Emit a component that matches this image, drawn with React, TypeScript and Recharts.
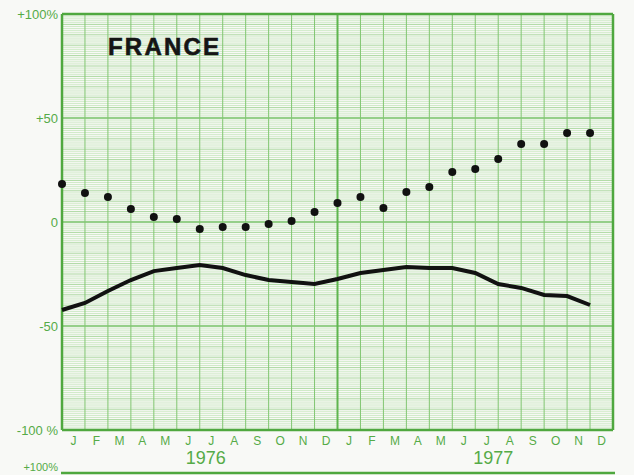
import { ComposedChart, Line, XAxis, YAxis, ReferenceLine } from "recharts";

const monthLabels = ["J", "F", "M", "A", "M", "J", "J", "A", "S", "O", "N", "D", "J", "F", "M", "A", "M", "J", "J", "A", "S", "O", "N", "D"];
const yearLabels = ["1976", "1977"];
const yearTicks = [6, 18];

// dots (upper series) and solid line (lower series), one value per month
const dotValues = [18.3, 13.9, 12.0, 6.3, 2.4, 1.4, -3.4, -2.4, -2.4, -1.0, 0.5, 4.8, 9.1, 12.0, 6.7, 14.4, 16.8, 24.0, 25.5, 30.3, 37.5, 37.5, 42.8, 42.8];
const lineValues = [-42.3, -38.9, -33.2, -27.9, -23.6, -22.1, -20.7, -22.1, -25.5, -27.9, -28.8, -29.8, -27.4, -24.5, -23.1, -21.6, -22.1, -22.1, -24.5, -29.8, -31.7, -35.1, -35.6, -39.9];

const yTicks = [-100, -50, 0, 50, 100];
const yTickLabels: Record<number, string> = { "-100": "-100 %", "-50": "-50", "0": "0", "50": "+50", "100": "+100%" };

const GREEN = "#4fa83f";
const TEXT_GREEN = "#55ab47";

const data = monthLabels.map((_, i) => ({ x: i, dots: dotValues[i], line: lineValues[i] }));
const monthTicks = monthLabels.map((_, i) => i + 0.5);
const fineRows = Array.from({ length: 199 }, (_, i) => i - 99).filter((v) => v % 50 !== 0);
const columns = Array.from({ length: 23 }, (_, i) => i + 1).filter((v) => v !== 12);

export default function App() {
    return (
        <div style={{ position: "absolute", left: 0, top: 0, width: 634, height: 475, background: "#f8f9f6", overflow: "hidden", fontFamily: "'Liberation Sans', Arial, sans-serif" }}>
            <ComposedChart width={634} height={475} data={data} margin={{ top: 14, right: 21, bottom: 1, left: 0 }}>
                <XAxis
                    dataKey="x"
                    type="number"
                    domain={[0, 24]}
                    ticks={monthTicks}
                    tickFormatter={(v: number) => monthLabels[Math.floor(v)]}
                    axisLine={false}
                    tickLine={false}
                    tickSize={0}
                    tickMargin={6}
                    height={20}
                    interval={0}
                    tick={{ fill: TEXT_GREEN, fontSize: 12 }}
                />
                <XAxis
                    xAxisId="year"
                    type="number"
                    domain={[0, 24]}
                    ticks={yearTicks}
                    tickFormatter={(v: number) => yearLabels[yearTicks.indexOf(v)]}
                    axisLine={false}
                    tickLine={false}
                    tickSize={0}
                    tickMargin={1}
                    height={24}
                    interval={0}
                    tick={{ fill: TEXT_GREEN, fontSize: 18 }}
                />
                <YAxis
                    type="number"
                    domain={[-100, 100]}
                    ticks={yTicks}
                    tickFormatter={(v: number) => yTickLabels[v]}
                    axisLine={false}
                    tickLine={false}
                    tickSize={0}
                    tickMargin={4}
                    width={62}
                    interval={0}
                    tick={{ fill: TEXT_GREEN, fontSize: 13 }}
                />
                {fineRows.map((v) => (
                    <ReferenceLine key={"h" + v} y={v} stroke={v % 5 === 0 ? "#acd8a0" : "#d0eac8"} strokeWidth={1} />
                ))}
                {[-50, 0, 50].map((v) => (
                    <ReferenceLine key={"m" + v} y={v} stroke="#74c064" strokeWidth={1.5} />
                ))}
                {columns.map((v) => (
                    <ReferenceLine key={"v" + v} x={v} stroke="#82c672" strokeWidth={1} />
                ))}
                <ReferenceLine x={12} stroke="#5fb54f" strokeWidth={2} />
                <ReferenceLine x={0} stroke={GREEN} strokeWidth={2.5} />
                <ReferenceLine x={24} stroke={GREEN} strokeWidth={2.5} />
                <ReferenceLine y={100} stroke={GREEN} strokeWidth={2.5} />
                <ReferenceLine y={-100} stroke={GREEN} strokeWidth={2.5} />
                <Line dataKey="line" type="linear" stroke="#111" strokeWidth={4} dot={false} isAnimationActive={false} />
                <Line dataKey="dots" type="linear" stroke="none" dot={{ r: 4, fill: "#111", stroke: "none" }} isAnimationActive={false} />
            </ComposedChart>
            <svg width={634} height={475} style={{ position: "absolute", left: 0, top: 0, pointerEvents: "none" }}>
                <text x={108} y={55} fontSize={24} fontWeight="bold" letterSpacing={2.2} fill="#151515" stroke="#151515" strokeWidth={0.6} fontFamily="'Liberation Sans', Arial, sans-serif">FRANCE</text>
                <text x={58} y={471} fontSize={11} textAnchor="end" fill={TEXT_GREEN} fontFamily="'Liberation Sans', Arial, sans-serif">+100%</text>
                <line x1={61} y1={473} x2={615} y2={473} stroke={GREEN} strokeWidth={2.5} />
            </svg>
        </div>
    );
}
